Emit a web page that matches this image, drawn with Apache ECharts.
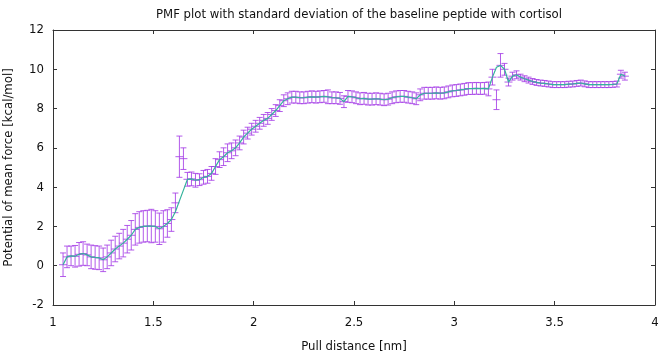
<!DOCTYPE html>
<html>
<head>
  <meta charset="utf-8">
  <title>PMF</title>
  <script src="https://cdn.jsdelivr.net/npm/echarts@6/dist/echarts.min.js"></script>
</head>
<body style="margin:0">
<div id="main" style="width:661px;height:355px;"></div>
<script type="text/javascript">
  // pull distance [nm]
  var distance = [
    1.05, 1.07, 1.09, 1.11, 1.13, 1.15, 1.17, 1.19, 1.21, 1.23,
    1.25, 1.27, 1.29, 1.31, 1.33, 1.35, 1.37, 1.39, 1.41, 1.43,
    1.45, 1.47, 1.49, 1.51, 1.53, 1.55, 1.57, 1.59, 1.61, 1.63,
    1.65, 1.67, 1.69, 1.71, 1.73, 1.75, 1.77, 1.79, 1.81, 1.83,
    1.85, 1.87, 1.89, 1.91, 1.93, 1.95, 1.97, 1.99, 2.01, 2.03,
    2.05, 2.07, 2.09, 2.11, 2.13, 2.15, 2.17, 2.19, 2.21, 2.23,
    2.25, 2.27, 2.29, 2.31, 2.33, 2.35, 2.37, 2.39, 2.41, 2.43,
    2.45, 2.47, 2.49, 2.51, 2.53, 2.55, 2.57, 2.59, 2.61, 2.63,
    2.65, 2.67, 2.69, 2.71, 2.73, 2.75, 2.77, 2.79, 2.81, 2.83,
    2.85, 2.87, 2.89, 2.91, 2.93, 2.95, 2.97, 2.99, 3.01, 3.03,
    3.05, 3.07, 3.09, 3.11, 3.13, 3.15, 3.17, 3.19, 3.21, 3.23,
    3.25, 3.27, 3.29, 3.31, 3.33, 3.35, 3.37, 3.39, 3.41, 3.43,
    3.45, 3.47, 3.49, 3.51, 3.53, 3.55, 3.57, 3.59, 3.61, 3.63,
    3.65, 3.67, 3.69, 3.71, 3.73, 3.75, 3.77, 3.79, 3.81, 3.83,
    3.85
  ];

  // potential of mean force [kcal/mol]
  var pmf = [
    0.05, 0.45, 0.50, 0.48, 0.58, 0.62, 0.55, 0.45, 0.42, 0.40,
    0.30, 0.45, 0.65, 0.85, 1.00, 1.15, 1.35, 1.55, 1.85, 1.95,
    2.00, 2.02, 2.02, 2.00, 1.88, 2.00, 2.15, 2.35, 2.75, 3.30,
    3.85, 4.40, 4.42, 4.35, 4.38, 4.50, 4.55, 4.70, 5.05, 5.40,
    5.55, 5.75, 5.85, 6.00, 6.25, 6.55, 6.75, 6.95, 7.10, 7.25,
    7.40, 7.50, 7.70, 7.90, 8.15, 8.40, 8.50, 8.58, 8.58, 8.55,
    8.55, 8.58, 8.60, 8.58, 8.60, 8.62, 8.60, 8.55, 8.55, 8.52,
    8.35, 8.62, 8.60, 8.55, 8.50, 8.52, 8.48, 8.48, 8.50, 8.48,
    8.45, 8.48, 8.55, 8.60, 8.62, 8.62, 8.58, 8.55, 8.50, 8.70,
    8.78, 8.78, 8.78, 8.80, 8.78, 8.80, 8.85, 8.90, 8.92, 8.95,
    8.98, 9.02, 9.02, 9.03, 9.02, 9.03, 9.00, 9.60, 10.10, 10.20,
    10.00, 9.35, 9.65, 9.72, 9.60, 9.52, 9.45, 9.38, 9.33, 9.30,
    9.28, 9.25, 9.22, 9.22, 9.22, 9.22, 9.24, 9.25, 9.28, 9.30,
    9.26, 9.22, 9.22, 9.22, 9.22, 9.22, 9.22, 9.23, 9.25, 9.75,
    9.65
  ];

  // standard deviation [kcal/mol]
  var stdev = [
    0.60, 0.55, 0.50, 0.55, 0.60, 0.60, 0.55, 0.60, 0.60, 0.60,
    0.60, 0.60, 0.65, 0.65, 0.65, 0.70, 0.70, 0.75, 0.80, 0.80,
    0.80, 0.80, 0.85, 0.80, 0.80, 0.80, 0.70, 0.60, 0.50, 1.05,
    0.55, 0.35, 0.35, 0.35, 0.30, 0.35, 0.35, 0.35, 0.40, 0.40,
    0.45, 0.45, 0.40, 0.40, 0.35, 0.35, 0.30, 0.30, 0.30, 0.30,
    0.30, 0.30, 0.30, 0.30, 0.30, 0.30, 0.30, 0.30, 0.30, 0.30,
    0.30, 0.30, 0.30, 0.30, 0.30, 0.30, 0.35, 0.30, 0.30, 0.30,
    0.30, 0.30, 0.30, 0.30, 0.30, 0.30, 0.30, 0.30, 0.30, 0.30,
    0.30, 0.30, 0.30, 0.30, 0.30, 0.30, 0.30, 0.30, 0.30, 0.30,
    0.30, 0.30, 0.30, 0.30, 0.30, 0.30, 0.30, 0.30, 0.30, 0.30,
    0.30, 0.30, 0.30, 0.30, 0.30, 0.30, 0.35, 0.40, 0.50, 0.60,
    0.30, 0.20, 0.20, 0.20, 0.15, 0.15, 0.15, 0.15, 0.15, 0.15,
    0.15, 0.15, 0.15, 0.15, 0.15, 0.15, 0.15, 0.15, 0.15, 0.15,
    0.15, 0.15, 0.15, 0.15, 0.15, 0.15, 0.15, 0.15, 0.15, 0.20,
    0.20
  ];

  // error bars whose centre is off the PMF line: [distance, centre]
  var offLineCentres = [
    [1.61, 3.20],
    [1.63, 5.55],
    [1.65, 5.45],
    [3.21, 8.45]
  ];

  var xTicks = [1, 1.5, 2, 2.5, 3, 3.5, 4];
  var yTicks = [-2, 0, 2, 4, 6, 8, 10, 12];

  var font = "'DejaVu Sans Condensed', 'Liberation Sans', sans-serif";
  var barColor = '#a63ee6';
  var lineColor = '#35b39c';
  var axisColor = '#333333';

  var lineData = distance.map(function (d, i) { return [d, pmf[i]]; });
  var barData = distance.map(function (d, i) {
    var c = pmf[i];
    offLineCentres.forEach(function (o) {
      if (Math.abs(o[0] - d) < 1e-6) c = o[1];
    });
    return [d, c, stdev[i]];
  });

  var chart = echarts.init(document.getElementById('main'));

  function axisBase(extra) {
    var a = {
      type: 'value',
      axisLine: { show: true, onZero: false, lineStyle: { color: axisColor, width: 1 } },
      axisTick: { show: true, inside: true, length: 4, lineStyle: { color: axisColor } },
      splitLine: { show: false },
      axisLabel: { show: false }
    };
    for (var k in extra) a[k] = extra[k];
    return a;
  }

  var option = {
    animation: false,
    backgroundColor: '#ffffff',
    title: {
      text: 'PMF plot with standard deviation of the baseline peptide with cortisol',
      left: 354,
      textAlign: 'center',
      top: 3,
      textStyle: { fontFamily: font, fontSize: 13, fontWeight: 'normal', color: '#111' }
    },
    grid: { left: 53, right: 6, top: 30, bottom: 50, containLabel: false, outerBoundsMode: 'none' },
    xAxis: [
      axisBase({
        position: 'bottom',
        min: xTicks[0], max: xTicks[xTicks.length - 1], interval: 0.5,
        axisLabel: { show: true, margin: 11, fontFamily: font, fontSize: 13, color: '#111' },
        name: 'Pull distance [nm]',
        nameLocation: 'middle',
        nameGap: 35,
        nameTextStyle: { fontFamily: font, fontSize: 13, color: '#111' }
      }),
      axisBase({
        position: 'top',
        min: xTicks[0], max: xTicks[xTicks.length - 1], interval: 0.5
      })
    ],
    yAxis: [
      axisBase({
        position: 'left',
        min: yTicks[0], max: yTicks[yTicks.length - 1], interval: 2,
        axisLabel: { show: true, margin: 9, fontFamily: font, fontSize: 13, color: '#111' },
        name: 'Potential of mean force [kcal/mol]',
        nameLocation: 'middle',
        nameGap: 38,
        nameTextStyle: { fontFamily: font, fontSize: 13, color: '#111' }
      }),
      axisBase({
        position: 'right',
        min: yTicks[0], max: yTicks[yTicks.length - 1], interval: 2
      })
    ],
    series: [
      {
        type: 'custom',
        xAxisIndex: 0,
        yAxisIndex: 0,
        z: 2,
        data: barData,
        renderItem: function (params, api) {
          var x = api.value(0), y = api.value(1), e = api.value(2);
          var top = api.coord([x, y + e]);
          var bot = api.coord([x, y - e]);
          var mid = api.coord([x, y]);
          var st = { stroke: barColor, lineWidth: 1, opacity: 0.85 };
          var cap = 3, pt = 4;
          return {
            type: 'group',
            children: [
              { type: 'line', shape: { x1: top[0], y1: top[1], x2: bot[0], y2: bot[1] }, style: st },
              { type: 'line', shape: { x1: top[0] - cap, y1: top[1], x2: top[0] + cap, y2: top[1] }, style: st },
              { type: 'line', shape: { x1: bot[0] - cap, y1: bot[1], x2: bot[0] + cap, y2: bot[1] }, style: st },
              { type: 'line', shape: { x1: mid[0] - pt, y1: mid[1], x2: mid[0] + pt, y2: mid[1] }, style: st }
            ]
          };
        }
      },
      {
        type: 'line',
        xAxisIndex: 0,
        yAxisIndex: 0,
        z: 3,
        data: lineData,
        showSymbol: false,
        symbol: 'none',
        lineStyle: { color: lineColor, width: 1.2 }
      }
    ]
  };

  chart.setOption(option);
</script>
</body>
</html>
